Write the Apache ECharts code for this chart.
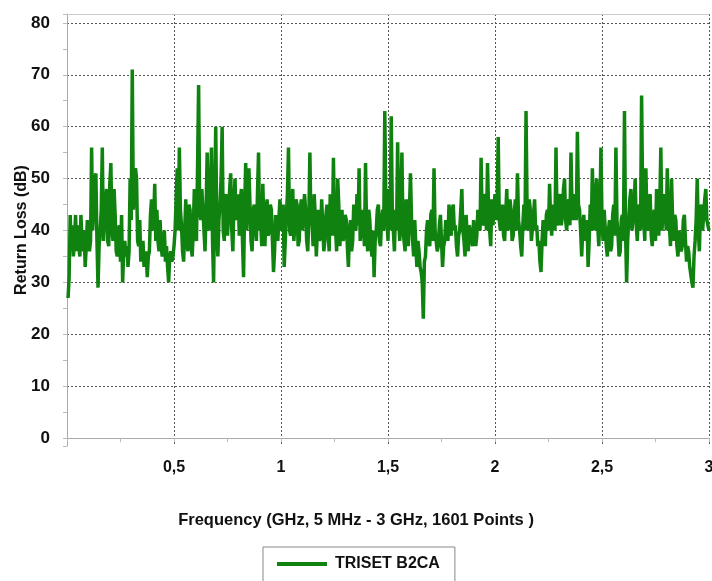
<!DOCTYPE html>
<html>
<head>
<meta charset="utf-8">
<script src="https://cdn.jsdelivr.net/npm/echarts@6/dist/echarts.min.js"></script>
<style>
  html, body { margin: 0; padding: 0; background: #fff; }
  #main { width: 712px; height: 581px; }
</style>
</head>
<body>
<div id="main"></div>
<script>
// sweep 5 MHz - 3 GHz (downsampled, 20 per 0.1 GHz)
var freqStart = 0.005;
var freqStop = 3.0;
var returnLoss = [
  27, 31, 43, 36, 41, 35, 38, 43, 36, 41, 37, 35, 43, 38, 36, 40, 33, 37, 42, 39,
  36, 38, 56, 40, 44, 50, 51, 38, 29, 37, 40, 44, 56, 38, 42, 45, 48, 38, 37, 49,
  53, 40, 38, 48, 43, 36, 35, 40, 41, 34, 43, 30, 36, 38, 35, 37, 33, 36, 50, 42,
  71, 44, 44, 52, 50, 38, 37, 42, 34, 36, 38, 33, 33, 36, 31, 35, 36, 43, 46, 40,
  42, 49, 38, 44, 38, 36, 42, 37, 35, 38, 40, 34, 37, 33, 30, 35, 36, 34, 35, 37,
  40, 46, 52, 40, 56, 44, 41, 36, 34, 40, 46, 38, 36, 45, 44, 37, 35, 40, 48, 39,
  38, 52, 68, 44, 42, 48, 48, 40, 36, 44, 55, 42, 40, 47, 56, 38, 30, 45, 60, 40,
  35, 42, 45, 50, 60, 40, 38, 46, 47, 39, 43, 48, 51, 40, 36, 45, 50, 42, 44, 47,
  39, 46, 48, 38, 31, 44, 53, 40, 40, 52, 52, 38, 36, 44, 45, 41, 38, 47, 55, 40,
  42, 37, 49, 41, 37, 44, 46, 39, 40, 45, 44, 38, 32, 36, 43, 40, 38, 42, 46, 41,
  40, 45, 33, 38, 43, 47, 56, 40, 39, 45, 48, 38, 41, 46, 45, 37, 38, 44, 46, 40,
  40, 47, 44, 38, 36, 42, 55, 41, 42, 37, 47, 43, 35, 40, 44, 38, 39, 46, 46, 36,
  38, 43, 45, 40, 36, 47, 42, 39, 54, 41, 40, 36, 50, 45, 37, 42, 44, 38, 39, 43,
  42, 37, 33, 40, 42, 36, 38, 45, 45, 40, 47, 41, 52, 38, 38, 44, 44, 37, 53, 40,
  36, 44, 42, 37, 35, 40, 31, 38, 40, 44, 45, 38, 37, 42, 44, 40, 63, 45, 42, 38,
  48, 40, 62, 44, 40, 36, 44, 40, 57, 42, 38, 45, 55, 40, 40, 36, 46, 40, 37, 44,
  51, 42, 38, 35, 42, 37, 33, 38, 36, 33, 32, 30, 23, 34, 35, 40, 42, 38, 37, 43,
  44, 38, 52, 40, 40, 36, 37, 41, 43, 38, 33, 37, 38, 42, 42, 38, 45, 40, 39, 44,
  45, 40, 41, 37, 35, 39, 40, 44, 48, 40, 38, 35, 43, 39, 36, 41, 41, 38, 37, 42,
  42, 37, 39, 44, 44, 40, 54, 42, 41, 46, 47, 40, 53, 44, 40, 37, 46, 41, 44, 47,
  42, 45, 58, 42, 40, 44, 45, 39, 38, 43, 48, 40, 41, 46, 44, 38, 39, 43, 46, 40,
  51, 42, 40, 37, 35, 41, 45, 40, 63, 44, 40, 46, 44, 38, 38, 43, 46, 40, 41, 37,
  38, 34, 32, 38, 42, 39, 37, 43, 44, 40, 49, 42, 39, 45, 45, 40, 56, 42, 41, 46,
  47, 41, 43, 48, 50, 42, 40, 45, 46, 41, 55, 44, 42, 47, 47, 42, 59, 45, 44, 40,
  35, 40, 43, 38, 38, 42, 33, 38, 45, 40, 52, 44, 40, 46, 50, 41, 37, 43, 56, 42,
  38, 44, 44, 37, 35, 40, 42, 36, 37, 43, 45, 39, 56, 42, 39, 35, 36, 42, 43, 38,
  63, 40, 30, 38, 42, 46, 48, 40, 40, 45, 50, 41, 38, 44, 45, 40, 66, 46, 42, 38,
  52, 42, 40, 46, 47, 39, 37, 43, 44, 38, 48, 42, 39, 45, 56, 40, 43, 47, 45, 40,
  52, 43, 41, 37, 50, 42, 38, 43, 42, 37, 35, 40, 40, 36, 37, 42, 43, 38, 34, 37,
  36, 33, 33, 30, 29, 35, 38, 42, 50, 40, 36, 44, 45, 40, 40, 46, 48, 42, 42, 40
];
var seriesName = 'TRISET B2CA';

var step = (freqStop - freqStart) / (returnLoss.length - 1);
var points = returnLoss.map(function (v, i) {
  return [freqStart + i * step, v];
});

var font = "'Liberation Sans', Arial, sans-serif";
var green = '#0f820f';
var txt = { fontFamily: font, fontSize: 16, fontWeight: 'bold', color: '#111' };

var myChart = echarts.init(document.getElementById('main'));
var option = {
  animation: false,
  textStyle: { fontFamily: font },
  grid: { left: 67, right: 3, top: 14, bottom: 135, outerBoundsMode: 'none', containLabel: false },
  legend: {
    data: [seriesName],
    left: 263,
    top: 547,
    icon: 'rect',
    itemWidth: 50,
    itemHeight: 4,
    itemGap: 0,
    padding: [9, 15, 12, 14],
    borderColor: '#888',
    borderWidth: 1,
    textStyle: Object.assign({}, txt, { padding: [0, 0, 0, 3] })
  },
  xAxis: [{
    type: 'value',
    min: 0,
    max: 3,
    interval: 0.5,
    name: 'Frequency (GHz, 5 MHz - 3 GHz, 1601 Points )',
    nameLocation: 'middle',
    nameGap: 66,
    nameMoveOverlap: false,
    nameTextStyle: Object.assign({}, txt, { fontSize: 16.5, padding: [0, 64, 0, 0] }),
    axisLine: { show: true, lineStyle: { color: '#aaa', width: 1 } },
    axisTick: { show: true, length: 4, lineStyle: { color: '#bbb' } },
    minorTick: { show: true, splitNumber: 2, length: 4, lineStyle: { color: '#bbb' } },
    axisLabel: Object.assign({
      showMinLabel: false,
      margin: 14,
      formatter: function (v) { return String(v).replace('.', ','); }
    }, txt),
    splitLine: { show: true, showMinLine: false, lineStyle: { color: '#555', type: [2, 2], width: 1 } }
  }, {
    // top frame line only
    type: 'value',
    position: 'top',
    min: 0,
    max: 3,
    axisLine: { show: true, lineStyle: { color: '#ccc', width: 1 } },
    axisTick: { show: false },
    axisLabel: { show: false },
    splitLine: { show: false }
  }],
  yAxis: {
    type: 'value',
    min: -1.5,
    max: 81.7,
    splitNumber: 8,
    name: 'Return Loss (dB)',
    nameLocation: 'middle',
    nameGap: 37,
    nameMoveOverlap: false,
    nameTextStyle: txt,
    axisLine: { show: true, lineStyle: { color: '#aaa', width: 1 } },
    axisTick: { show: true, length: 4, lineStyle: { color: '#bbb' } },
    minorTick: { show: true, splitNumber: 2, length: 4, lineStyle: { color: '#bbb' } },
    axisLabel: Object.assign({
      showMinLabel: false,
      showMaxLabel: false,
      margin: 17
    }, txt, { fontSize: 17 }),
    splitLine: { show: true, showMinLine: false, showMaxLine: false, lineStyle: { color: '#555', type: [2, 2], width: 1 } }
  },
  series: [
    {
      name: seriesName,
      type: 'line',
      xAxisIndex: 0,
      data: points,
      showSymbol: false,
      color: green,
      lineStyle: { color: green, width: 3.5 }
    }
  ]
};
myChart.setOption(option);
</script>
</body>
</html>
